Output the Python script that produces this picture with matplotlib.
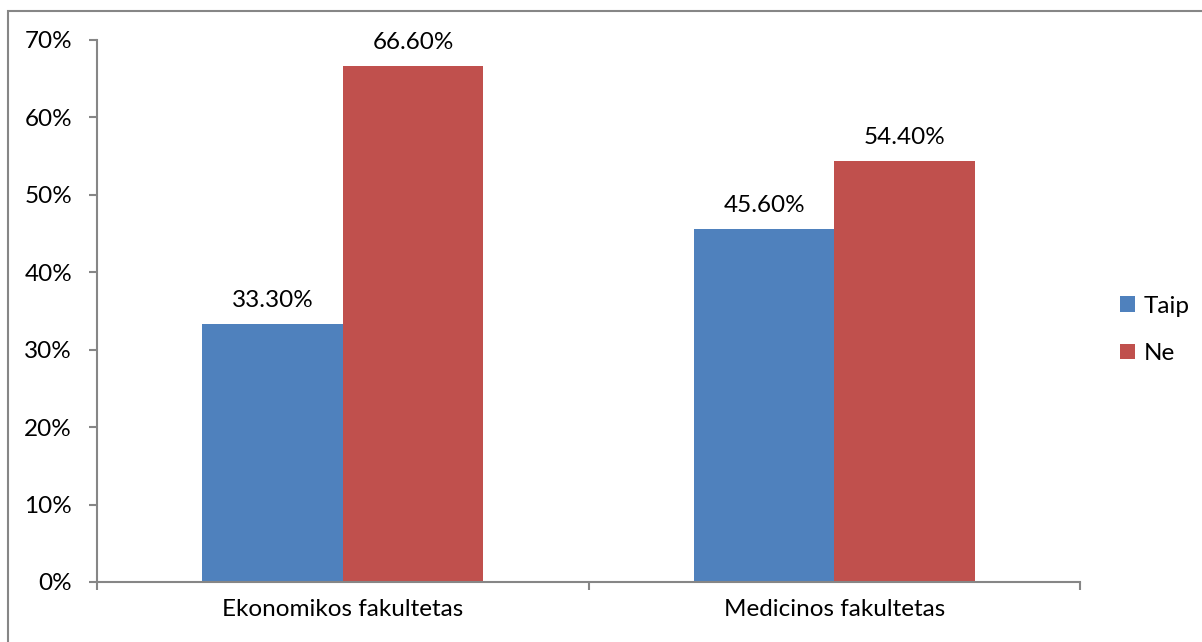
import numpy as np
import matplotlib.pyplot as plt
from matplotlib.patches import Rectangle

plt.rcParams['font.family'] = ['Lato', 'DejaVu Sans']

categories = ["Ekonomikos fakultetas", "Medicinos fakultetas"]
taip = [0.333, 0.456]
ne = [0.666, 0.544]
series_names = ["Taip", "Ne"]
colors = ["#4F81BD", "#C0504D"]
axis_color = "#868686"
fs = 17.5

fig = plt.figure(figsize=(12.02, 6.42), dpi=100)
ax = fig.add_axes([97 / 1202, 60 / 642, 983 / 1202, 542 / 642])

# outer frame of the chart area
fig.patches.append(Rectangle((8 / 1202, -0.1), 1.2, (642 - 11) / 642 + 0.1,
                             transform=fig.transFigure, fill=False,
                             edgecolor=axis_color, linewidth=1.5))

x = np.arange(len(categories))
width = 1 / 3.5
bars1 = ax.bar(x - width / 2, taip, width, color=colors[0], label=series_names[0])
bars2 = ax.bar(x + width / 2, ne, width, color=colors[1], label=series_names[1])

for bars, vals in ((bars1, taip), (bars2, ne)):
    for b, v in zip(bars, vals):
        ax.text(b.get_x() + b.get_width() / 2, v + 0.017, f"{v * 100:.2f}%",
                ha='center', va='bottom', fontsize=fs)

ax.set_xlim(-0.5, 1.5)
ax.set_ylim(0, 0.7)
yt = np.arange(0, 0.71, 0.1)
ax.set_yticks(yt)
ax.set_yticklabels([f"{int(round(t * 100))}%" for t in yt], fontsize=fs)
ax.set_xticks(x)
ax.set_xticklabels(categories, fontsize=fs)
ax.set_xticks([-0.5, 0.5, 1.5], minor=True)
ax.tick_params(axis='x', which='major', length=0, pad=12)
ax.tick_params(axis='x', which='minor', length=6, color=axis_color, width=1.5)
ax.tick_params(axis='y', length=6, color=axis_color, width=1.5, pad=12)

for s in ('top', 'right'):
    ax.spines[s].set_visible(False)
for s in ('left', 'bottom'):
    ax.spines[s].set_color(axis_color)
    ax.spines[s].set_linewidth(1.5)

ax.legend(loc='center left', bbox_to_anchor=(1.031, 0.465), frameon=False,
          fontsize=fs, handlelength=0.6, handleheight=0.6, labelspacing=1.1,
          handletextpad=0.35, borderaxespad=0)

fig.savefig("out.png", dpi=100)
